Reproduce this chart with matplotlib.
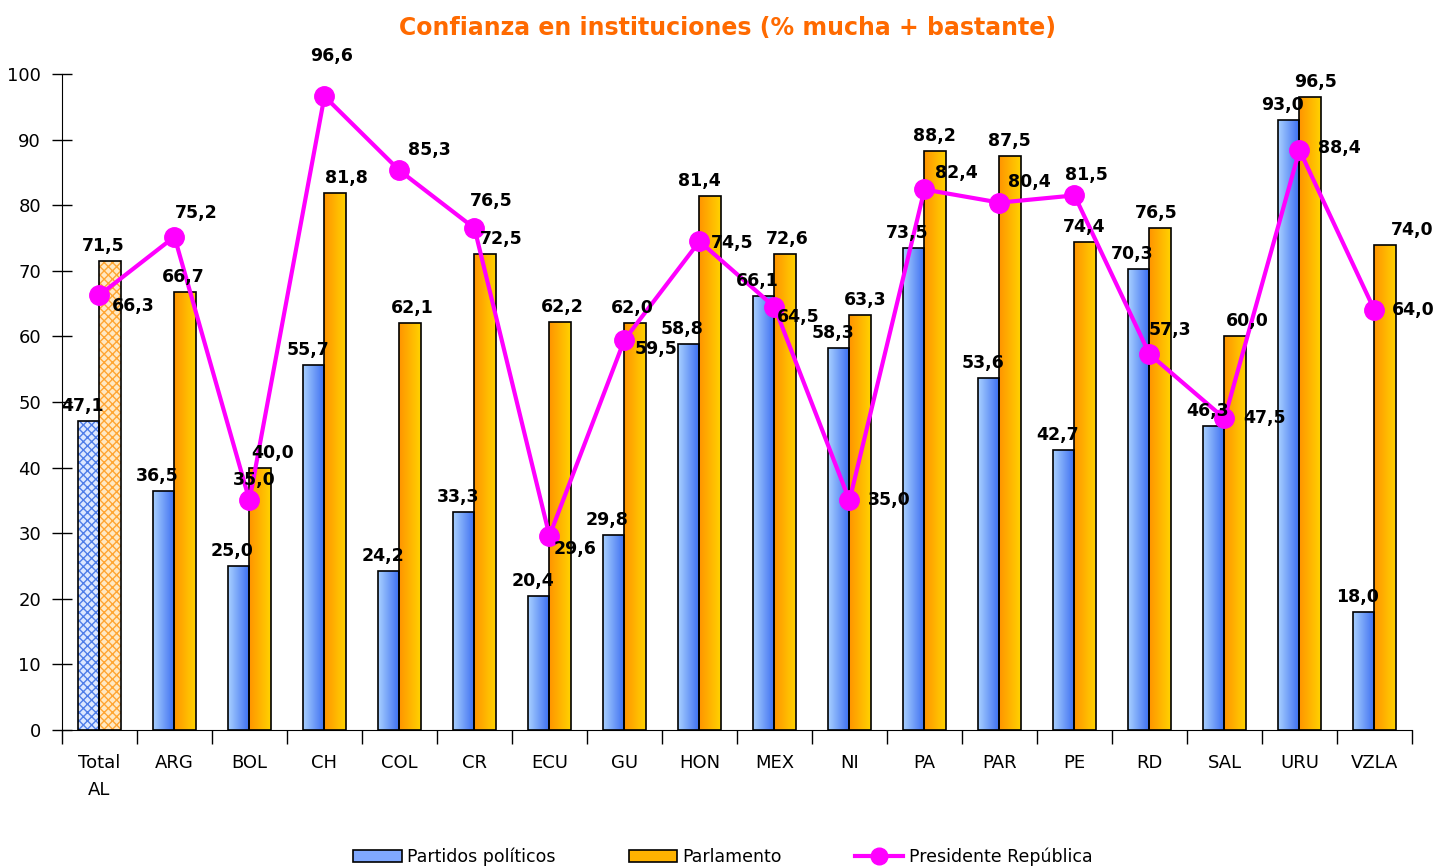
import numpy as np
import matplotlib
matplotlib.use("Agg")
import matplotlib.pyplot as plt
from matplotlib.colors import LinearSegmentedColormap
from matplotlib.patches import Patch
from matplotlib.lines import Line2D

# Data
categories = ["Total\nAL", "ARG", "BOL", "CH", "COL", "CR", "ECU", "GU", "HON",
              "MEX", "NI", "PA", "PAR", "PE", "RD", "SAL", "URU", "VZLA"]
partidos = [47.1, 36.5, 25.0, 55.7, 24.2, 33.3, 20.4, 29.8, 58.8,
            66.1, 58.3, 73.5, 53.6, 42.7, 70.3, 46.3, 93.0, 18.0]
parlamento = [71.5, 66.7, 40.0, 81.8, 62.1, 72.5, 62.2, 62.0, 81.4,
              72.6, 63.3, 88.2, 87.5, 74.4, 76.5, 60.0, 96.5, 74.0]
presidente = [66.3, 75.2, 35.0, 96.6, 85.3, 76.5, 29.6, 59.5, 74.5,
              64.5, 35.0, 82.4, 80.4, 81.5, 57.3, 47.5, 88.4, 64.0]

# label placement tweaks (pixels)
pres_offsets = [(34, -11), (22, 24), (5, 20), (7, 40), (30, 20), (17, 27), (26, -13),
                (32, -9), (33, -2), (24, -10), (40, 0), (32, 16), (30, 21), (12, 20),
                (20, 24), (40, 0), (40, 2), (39, 0)]
parl_shift = [-7, -2, 12, 11, 2, 16, 2, -3, -11, 2, 5, -1, -1, -1, -4, 12, 5, 27]

fmt = lambda v: f"{v:.1f}".replace(".", ",")

fig = plt.figure(figsize=(14.37, 8.67), dpi=100)
ax = fig.add_axes([0.0431, 0.158, 0.9395, 0.7566])

x = np.arange(len(categories))
w = 0.29

blue_cmap = LinearSegmentedColormap.from_list("b", ["#a8d0ff", "#3a6cf0"])
orange_cmap = LinearSegmentedColormap.from_list("o", ["#ff9400", "#ffd200"])
grad = np.linspace(0, 1, 64).reshape(1, -1)

bars_b = ax.bar(x - w / 2, partidos, w, color="none", edgecolor="black", linewidth=1.2, zorder=3)
bars_o = ax.bar(x + w / 2, parlamento, w, color="none", edgecolor="black", linewidth=1.2, zorder=3)

for i, (bb, bo) in enumerate(zip(bars_b, bars_o)):
    if i == 0:
        # Total AL bars are drawn with a checker pattern
        ax.bar(x[0] - w / 2, partidos[0], w, color="#dde8ff", edgecolor="#4f7de8",
               hatch="xxxx", linewidth=0, zorder=2)
        ax.bar(x[0] + w / 2, parlamento[0], w, color="#ffe9c4", edgecolor="#ffa633",
               hatch="xxxx", linewidth=0, zorder=2)
        continue
    for bar, cmap in ((bb, blue_cmap), (bo, orange_cmap)):
        x0, y0 = bar.get_x(), bar.get_y()
        im = ax.imshow(grad, cmap=cmap, aspect="auto", zorder=2,
                       extent=[x0, x0 + bar.get_width(), y0, y0 + bar.get_height()])
        im.set_clip_path(bar)

# line for Presidente
ax.plot(x, presidente, color="#ff00ff", linewidth=3, marker="o", markersize=14,
        zorder=5)

lab_font = dict(fontsize=12.5, fontweight="bold", color="black", zorder=6)
for i in range(len(categories)):
    ax.annotate(fmt(partidos[i]), (x[i] + 0.06, partidos[i]), xytext=(0, 6),
                textcoords="offset pixels", ha="right", va="bottom", **lab_font)
    ax.annotate(fmt(parlamento[i]), (x[i] + w / 2, parlamento[i]), xytext=(parl_shift[i], 6),
                textcoords="offset pixels", ha="center", va="bottom", **lab_font)
    dx, dy = pres_offsets[i]
    ax.annotate(fmt(presidente[i]), (x[i], presidente[i]), xytext=(dx, dy),
                textcoords="offset pixels", ha="center", va="center", **lab_font)

ax.set_xlim(-0.5, len(categories) - 0.5)
ax.set_ylim(0, 100)
ax.set_yticks(range(0, 101, 10))
ax.tick_params(axis="y", direction="inout", length=14, width=1, labelsize=13, pad=8)
ax.set_xticks(np.arange(-0.5, len(categories), 1))
ax.set_xticklabels([])
ax.set_xticks(x, minor=True)
ax.set_xticklabels(categories, minor=True, fontsize=13, linespacing=1.7, va="top")
ax.tick_params(axis="x", which="major", direction="out", length=10, width=1)
ax.tick_params(axis="x", which="minor", length=0, pad=17)
for s in ("top", "right"):
    ax.spines[s].set_visible(False)

fig.suptitle("Confianza en instituciones (% mucha + bastante)", x=0.506, y=0.982,
             fontsize=17, fontweight="bold", color="#ff6a00")

handles = [Patch(facecolor="#7fa8ff", edgecolor="black", linewidth=1.2),
           Patch(facecolor="#ffb300", edgecolor="black", linewidth=1.2),
           Line2D([], [], color="#ff00ff", linewidth=3, marker="o", markersize=12)]
fig.legend(handles, ["Partidos políticos", "Parlamento", "Presidente República"],
           loc="lower center", bbox_to_anchor=(0.503, -0.017), ncol=3, frameon=False,
           fontsize=12.5, handlelength=2.8, handletextpad=0.3, columnspacing=4.2)

fig.savefig("out.png", dpi=100)
